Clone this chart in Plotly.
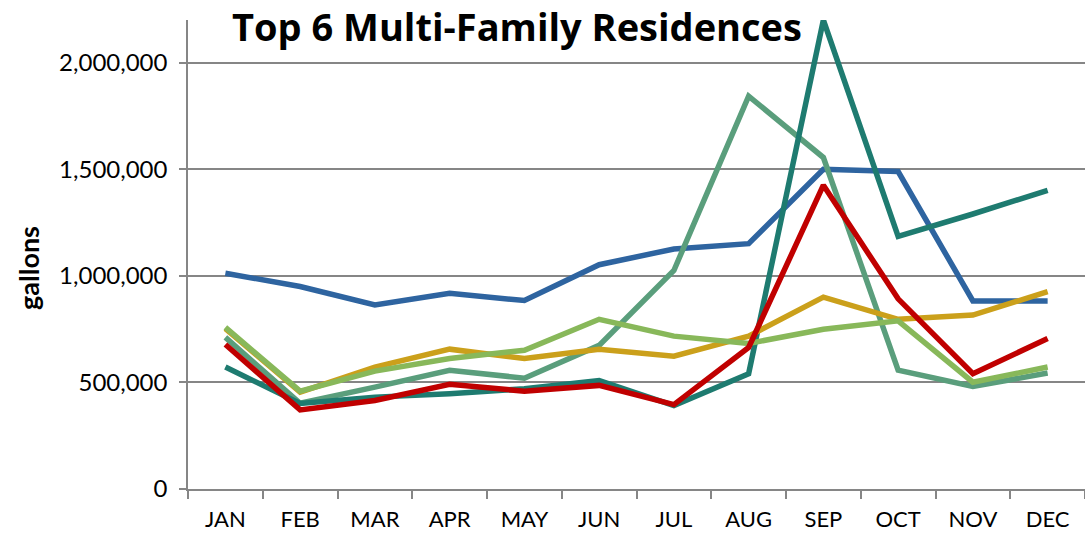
import plotly.graph_objects as go

months = ["JAN", "FEB", "MAR", "APR", "MAY", "JUN", "JUL", "AUG", "SEP", "OCT", "NOV", "DEC"]

res_blue = [1012000, 950000, 863000, 918000, 884000, 1052000, 1126000, 1151000, 1500000, 1489000, 882000, 882000]
res_seagreen = [711000, 402000, 478000, 557000, 520000, 674000, 1025000, 1843000, 1555000, 557000, 481000, 544000]
res_teal = [572000, 401000, 431000, 447000, 470000, 509000, 391000, 541000, 2200000, 1185000, 1290000, 1401000]
res_gold = [752000, 454000, 572000, 656000, 612000, 656000, 623000, 717000, 900000, 796000, 816000, 926000]
res_lightgreen = [758000, 459000, 553000, 612000, 651000, 796000, 717000, 683000, 749000, 789000, 501000, 572000]
res_red = [678000, 371000, 415000, 491000, 459000, 486000, 396000, 664000, 1425000, 892000, 541000, 706000]

series = [
    ("Residence 1", res_blue, "#2E64A0"),
    ("Residence 2", res_seagreen, "#5A9E7C"),
    ("Residence 3", res_teal, "#1E7B70"),
    ("Residence 4", res_gold, "#CBA01B"),
    ("Residence 5", res_lightgreen, "#88B85A"),
    ("Residence 6", res_red, "#C00000"),
]

FONT = "Lato"
TITLE_FONT = "Open Sans"

W, H = 1085, 534
L, R, T, B = 188, 0, 20, 45
PW, PH = W - L - R, H - T - B

fig = go.Figure()
for name, vals, color in series:
    fig.add_trace(go.Scatter(
        x=months, y=vals, mode="lines", name=name,
        line=dict(color=color, width=5.5),
        cliponaxis=False,
    ))

fig.update_layout(
    width=W, height=H,
    margin=dict(l=L, r=R, t=T, b=B, autoexpand=False),
    paper_bgcolor="white", plot_bgcolor="white",
    showlegend=False,
    font=dict(family=FONT, color="black"),
)

fig.add_annotation(
    text="<b>Top 6 Multi-Family Residences</b>",
    xref="paper", yref="paper",
    x=(517 - L) / PW, y=(H - B - 26) / PH,
    xanchor="center", yanchor="middle", showarrow=False,
    font=dict(family=TITLE_FONT, size=38, color="black"),
)

fig.add_annotation(
    text="<b>gallons</b>",
    xref="paper", yref="paper",
    x=(28 - L) / PW, y=(H - B - 268) / PH,
    xanchor="center", yanchor="middle", showarrow=False, textangle=-90,
    font=dict(family=FONT, size=27, color="black"),
)

fig.update_xaxes(
    type="category", range=[-0.5, 11.5], automargin=False,
    showline=True, linecolor="#868686", linewidth=1.5,
    ticks="outside", tickson="boundaries", ticklen=8, tickcolor="#868686", tickwidth=1.5,
    ticklabelstandoff=10,
    tickfont=dict(family=FONT, size=22, color="black"),
    showgrid=False, zeroline=False,
)

fig.update_yaxes(
    range=[0, 2200000], automargin=False,
    tickvals=[0, 500000, 1000000, 1500000, 2000000],
    ticktext=["0", "500,000", "1,000,000", "1,500,000", "2,000,000"],
    showline=True, linecolor="#868686", linewidth=1.5,
    ticks="outside", ticklen=7, tickcolor="#868686", tickwidth=1.5,
    ticklabelstandoff=7,
    showgrid=True, gridcolor="#868686", gridwidth=1.5,
    zeroline=False,
    tickfont=dict(family=FONT, size=24, color="black"),
)

fig.write_html(
    "out.html",
    config={"displayModeBar": False},
    post_script="document.body.style.margin='0px';document.body.style.overflow='hidden';",
)
